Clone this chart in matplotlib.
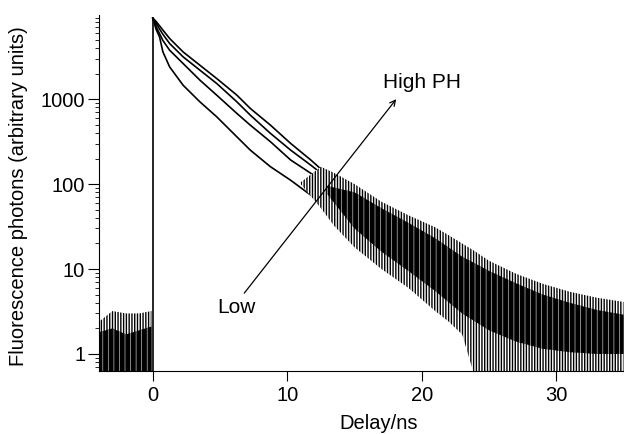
import matplotlib
matplotlib.use("Agg")
from matplotlib import pyplot as plt
from matplotlib.ticker import LogLocator, NullFormatter

plt.rcParams["font.family"] = ["Liberation Sans", "DejaVu Sans"]

# decay curves (counts vs delay in ns), until they merge
delay = [0.0, 0.25, 0.5, 0.75, 1.25, 2.25, 3.5, 4.75, 6.25, 7.25, 8.75,
         10.25, 11.75, 13.0, 14.5]
ph_high = [9000, 8200, 7300, 6500, 5180, 3600, 2510, 1750, 1115, 777, 494,
           301, 192, 128, 90]
ph_mid_high = [9000, 7770, 6700, 5800, 4520, 3150, 2195, 1530, 930, 648, 395,
               251, 167, 117, 82]
ph_mid_low = [9000, 7100, 5900, 4900, 3770, 2630, 1675, 1115, 679, 494, 315,
              192, 134, 93, 66]
ph_low = [9000, 6600, 5400, 3600, 2400, 1460, 930, 620, 360, 251, 160,
          111, 74, 54, 44]

# outer spread of the photon-counting noise (spike tips)
tail_delay = [11.0, 12.5, 13.5, 15.0, 17.0, 19.0, 21.0, 22.0, 23.0,
              24.0, 25.0, 27.0, 29.0, 31.0, 33.0, 35.0]
tail_top = [105, 160, 135, 100, 62, 43, 31, 25, 20, 16, 12.5, 8.8, 6.7,
            5.4, 4.6, 4.1]
tail_bottom = [100, 52, 32, 18, 10, 6.0, 3.2, 2.4, 1.7, 0.5, 0.5, 0.5, 0.5,
               0.5, 0.5, 0.5]

# solid core of the merged curves
core_delay = [13.0, 15.0, 17.0, 19.0, 21.0, 23.0, 25.0, 27.0, 29.0, 31.0,
              33.0, 35.0]
core_top = [95, 80, 52, 35, 23, 14, 9.5, 6.8, 5.0, 4.0, 3.3, 2.9]
core_bottom = [75, 30, 16, 9.5, 5.5, 3.0, 1.9, 1.4, 1.15, 1.05, 1.0, 1.0]

# dark-count background before the pulse
bkg_delay = [-4.0, -3.0, -2.0, -1.0, -0.1]
bkg_top = [2.4, 3.2, 3.0, 3.0, 3.2]
bkg_core = [1.8, 2.0, 1.7, 1.9, 2.1]

y_floor = 0.63

fig = plt.figure(figsize=(6.24, 4.34), dpi=100)
ax = fig.add_axes([0.1587, 0.1452, 0.8405, 0.8203])

ax.vlines(delay[0], 0.5, max(ph_high), color="black", lw=1.2, zorder=3)
for series in (ph_high, ph_mid_high, ph_mid_low, ph_low):
    ax.plot(delay, series, color="black", lw=1.2, zorder=1)

# spikes: vertical black strokes on white
plt.rcParams["hatch.linewidth"] = 1.0
ax.fill_between(bkg_delay, 0.5, bkg_top, facecolor="white", edgecolor="black",
                hatch="||||||", lw=0, zorder=2)
ax.fill_between(tail_delay, tail_bottom, tail_top, facecolor="white",
                edgecolor="black", hatch="||||||", lw=0, zorder=2)
# dense parts: black with a few light gaps
plt.rcParams["hatch.linewidth"] = 0.5
ax.fill_between(bkg_delay, 0.5, bkg_core, facecolor="black",
                edgecolor="#bdbdbd", hatch="|||", lw=0, zorder=2)
ax.fill_between(core_delay, core_bottom, core_top, facecolor="black",
                edgecolor="#bdbdbd", hatch="|||", lw=0, zorder=2)

ax.annotate("", xy=(18.1, 1000), xytext=(6.8, 5.2),
            arrowprops=dict(arrowstyle="->", lw=0.9, color="black",
                            shrinkA=0, shrinkB=0), zorder=4)
ax.text(20.0, 1550, "High PH", ha="center", va="center", fontsize=15)
ax.text(6.25, 3.57, "Low", ha="center", va="center", fontsize=15)

ax.set_yscale("log")
ax.set_xlim(-4, 35)
ax.set_ylim(y_floor, 9800)
ax.set_xticks([0, 10, 20, 30])
ax.set_yticks([1, 10, 100, 1000])
ax.set_yticklabels(["1", "10", "100", "1000"])
ax.yaxis.set_minor_locator(LogLocator(base=10, subs=range(2, 10)))
ax.yaxis.set_minor_formatter(NullFormatter())

for side in ("top", "right"):
    ax.spines[side].set_visible(False)
for side in ("left", "bottom"):
    ax.spines[side].set_linewidth(0.8)
ax.tick_params(axis="x", direction="out", length=7, width=0.8,
               labelsize=14.5, pad=4)
ax.tick_params(axis="y", which="major", direction="out", length=8, width=0.8,
               labelsize=14.5, pad=2)
ax.tick_params(axis="y", which="minor", direction="out", length=3, width=0.6)

ax.set_xlabel("Delay/ns", fontsize=14.5)
ax.set_ylabel("Fluorescence photons (arbitrary units)", fontsize=14.5)
ax.xaxis.set_label_coords(0.533, -0.12)
ax.yaxis.set_label_coords(-0.135, 0.49)

fig.savefig("out.png", dpi=100)
